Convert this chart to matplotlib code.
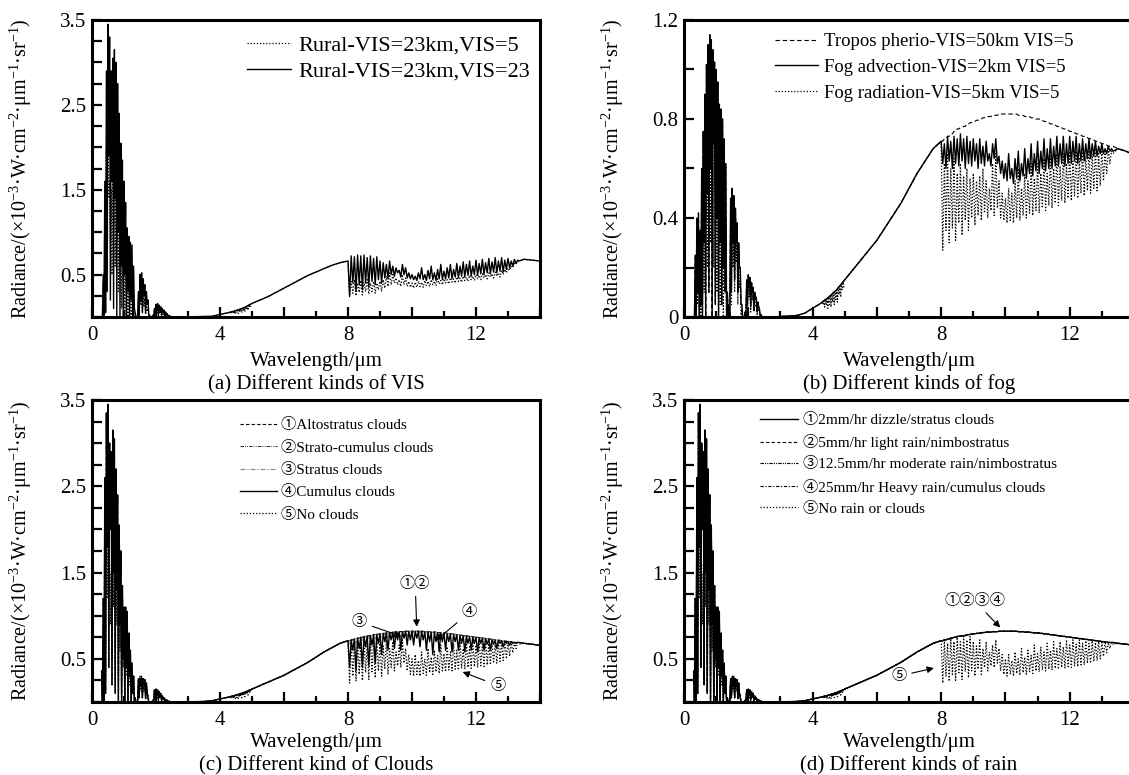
import numpy as np
import matplotlib
matplotlib.use("Agg")
import matplotlib.pyplot as plt
from matplotlib.ticker import MultipleLocator, FuncFormatter

plt.rcParams["font.family"] = ["Liberation Serif", "Noto Sans CJK SC", "DejaVu Sans"]
plt.rcParams["mathtext.fontset"] = "custom"
plt.rcParams["mathtext.rm"] = "Liberation Serif"
plt.rcParams["mathtext.it"] = "Liberation Serif:italic"
plt.rcParams["font.size"] = 15

# wavelength grids (um)
sw_x = np.linspace(0.30, 2.50, 45)     # short-wave spike positions
mid_x = np.linspace(2.50, 8.00, 23)    # smooth rise
co2_x = np.linspace(4.30, 4.95, 14)    # CO2 band dip
lw_x = np.linspace(8.0, 13.3, 54)      # long-wave window
tail_x = [13.5, 13.75, 14.0]

# ---- short-wave peaks / troughs ----
a_sw_top = [0.0, 0.5, 1.6, 2.9, 3.45, 3.3, 2.9, 3.05, 3.15, 3.0,
            2.75, 2.4, 2.05, 1.85, 1.6, 1.35, 1.05, 0.95, 0.88, 0.85,
            0.6, 0.05, 0.0, 0.3, 0.5, 0.52, 0.45, 0.38, 0.3, 0.2,
            0.02, 0.0, 0.02, 0.1, 0.15, 0.16, 0.14, 0.12, 0.1, 0.08,
            0.06, 0.04, 0.02, 0.01, 0.0]
a_sw_bot = [0.0, 0.0, 0.05, 0.3, 1.9, 0.2, 1.6, 0.1, 1.4, 0.0,
            1.0, 0.0, 0.6, 0.0, 0.5, 0.0, 0.3, 0.0, 0.2, 0.0,
            0.1, 0.0, 0.0, 0.02, 0.2, 0.05, 0.25, 0.05, 0.15, 0.02,
            0.0, 0.0, 0.0, 0.02, 0.08, 0.02, 0.08, 0.02, 0.05, 0.01,
            0.03, 0.0, 0.01, 0.0, 0.0]
dot_sw_top = [0.0, 0.4, 1.3, 2.0, 2.3, 1.6, 1.5, 2.0, 2.2, 2.0,
              1.8, 1.55, 1.3, 1.1, 0.95, 0.8, 0.65, 0.55, 0.45, 0.35,
              0.25, 0.03, 0.0, 0.2, 0.3, 0.3, 0.27, 0.22, 0.17, 0.1,
              0.01, 0.0, 0.01, 0.07, 0.1, 0.1, 0.09, 0.08, 0.06, 0.05,
              0.03, 0.02, 0.01, 0.0, 0.0]
dot_sw_bot = [0.0, 0.0, 0.3, 1.2, 1.4, 0.9, 0.5, 1.1, 0.6, 0.9,
              0.3, 0.6, 0.1, 0.4, 0.0, 0.3, 0.0, 0.2, 0.0, 0.1,
              0.0, 0.0, 0.0, 0.05, 0.15, 0.05, 0.12, 0.03, 0.08, 0.0,
              0.0, 0.0, 0.0, 0.02, 0.05, 0.01, 0.04, 0.01, 0.03, 0.0,
              0.01, 0.0, 0.0, 0.0, 0.0]
b_sw_top = [0.0, 0.25, 0.4, 0.42, 0.35, 0.6, 0.75, 0.9, 1.02, 1.1,
            1.14, 1.12, 1.08, 1.03, 1.0, 0.95, 0.86, 0.84, 0.8, 0.72,
            0.62, 0.1, 0.05, 0.48, 0.52, 0.49, 0.44, 0.38, 0.3, 0.2,
            0.05, 0.0, 0.02, 0.15, 0.17, 0.16, 0.14, 0.12, 0.1, 0.08,
            0.06, 0.03, 0.01, 0.0, 0.0]
b_sw_bot = [0.0, 0.0, 0.1, 0.0, 0.05, 0.0, 0.3, 0.0, 0.5, 0.1,
            0.6, 0.0, 0.7, 0.05, 0.4, 0.0, 0.3, 0.05, 0.2, 0.1,
            0.0, 0.0, 0.0, 0.1, 0.3, 0.15, 0.3, 0.1, 0.2, 0.05,
            0.0, 0.0, 0.0, 0.05, 0.12, 0.04, 0.1, 0.03, 0.07, 0.02,
            0.04, 0.0, 0.0, 0.0, 0.0]
b_dot_sw_top = [0.0, 0.15, 0.3, 0.35, 0.3, 0.5, 0.65, 0.8, 0.92, 0.98,
                1.0, 0.99, 0.95, 0.9, 0.85, 0.8, 0.72, 0.68, 0.62, 0.5,
                0.4, 0.05, 0.02, 0.35, 0.38, 0.36, 0.33, 0.3, 0.25, 0.15,
                0.03, 0.0, 0.01, 0.12, 0.14, 0.13, 0.12, 0.1, 0.08, 0.06,
                0.04, 0.02, 0.01, 0.0, 0.0]
b_dot_sw_bot = [0.0, 0.0, 0.05, 0.1, 0.0, 0.2, 0.1, 0.4, 0.2, 0.6,
                0.3, 0.7, 0.2, 0.5, 0.1, 0.4, 0.05, 0.3, 0.0, 0.2,
                0.0, 0.0, 0.0, 0.05, 0.2, 0.1, 0.22, 0.05, 0.12, 0.0,
                0.0, 0.0, 0.0, 0.03, 0.08, 0.02, 0.07, 0.02, 0.04, 0.0,
                0.02, 0.0, 0.0, 0.0, 0.0]
cd_sw_top = [0.36, 1.2, 2.6, 3.35, 3.45, 3.0, 2.9, 3.15, 3.05, 2.7,
             2.4, 2.05, 1.75, 1.35, 1.1, 1.1, 1.05, 0.8, 0.6, 0.45,
             0.3, 0.05, 0.0, 0.27, 0.28, 0.28, 0.27, 0.26, 0.22, 0.05,
             0.0, 0.0, 0.02, 0.14, 0.15, 0.14, 0.12, 0.1, 0.07, 0.05,
             0.03, 0.02, 0.01, 0.0, 0.0]
cd_sw_bot = [0.0, 0.0, 0.1, 1.8, 0.4, 2.0, 0.2, 1.5, 0.1, 1.3,
             0.0, 0.9, 0.0, 0.5, 0.0, 0.4, 0.0, 0.3, 0.0, 0.1,
             0.0, 0.0, 0.0, 0.05, 0.18, 0.05, 0.2, 0.04, 0.1, 0.0,
             0.0, 0.0, 0.0, 0.05, 0.1, 0.03, 0.08, 0.02, 0.04, 0.01,
             0.0, 0.0, 0.0, 0.0, 0.0]

# ---- 2.5-8 um smooth part ----
a_mid = [0.0, 0.0, 0.002, 0.004, 0.005, 0.008, 0.03, 0.05, 0.075, 0.11, 0.16, 0.2,
         0.24, 0.29, 0.34, 0.39, 0.44, 0.49, 0.53, 0.57, 0.61, 0.64, 0.66]
bcd_mid = [0.0, 0.0, 0.002, 0.004, 0.006, 0.015, 0.035, 0.055, 0.08, 0.11, 0.15, 0.19,
           0.23, 0.27, 0.31, 0.36, 0.41, 0.46, 0.52, 0.58, 0.63, 0.68, 0.71]
co2_top = [0.06, 0.065, 0.07, 0.075, 0.08, 0.085, 0.09, 0.10, 0.105, 0.11, 0.12, 0.125, 0.13, 0.14]
co2_bot = [0.05, 0.04, 0.05, 0.035, 0.05, 0.04, 0.06, 0.05, 0.07, 0.06, 0.09, 0.08, 0.11, 0.12]

# ---- 8-13.3 um window ----
lw_bb = [0.71, 0.72, 0.73, 0.74, 0.75, 0.76, 0.765, 0.77, 0.78, 0.785,
         0.79, 0.795, 0.80, 0.805, 0.81, 0.81, 0.815, 0.815, 0.82, 0.82,
         0.82, 0.82, 0.82, 0.82, 0.815, 0.815, 0.81, 0.81, 0.805, 0.80,
         0.80, 0.795, 0.79, 0.785, 0.78, 0.775, 0.77, 0.765, 0.76, 0.755,
         0.75, 0.745, 0.74, 0.735, 0.73, 0.725, 0.72, 0.715, 0.71, 0.705,
         0.70, 0.695, 0.69, 0.69]
a23_lw_top = [0.70, 0.72, 0.71, 0.73, 0.72, 0.73, 0.70, 0.72, 0.69, 0.71,
              0.66, 0.64, 0.62, 0.66, 0.60, 0.58, 0.55, 0.62, 0.58, 0.52,
              0.50, 0.48, 0.52, 0.58, 0.50, 0.55, 0.60, 0.52, 0.56, 0.62,
              0.54, 0.58, 0.62, 0.56, 0.63, 0.60, 0.65, 0.62, 0.66, 0.60,
              0.67, 0.63, 0.68, 0.64, 0.69, 0.65, 0.70, 0.66, 0.70, 0.67,
              0.69, 0.66, 0.68, 0.67]
a23_lw_bot = [0.25, 0.40, 0.30, 0.38, 0.32, 0.40, 0.35, 0.42, 0.38, 0.44,
              0.40, 0.46, 0.45, 0.50, 0.48, 0.52, 0.47, 0.50, 0.46, 0.45,
              0.44, 0.43, 0.45, 0.44, 0.43, 0.45, 0.44, 0.43, 0.45, 0.44,
              0.45, 0.46, 0.45, 0.47, 0.46, 0.48, 0.47, 0.49, 0.48, 0.50,
              0.49, 0.51, 0.50, 0.52, 0.51, 0.53, 0.52, 0.54, 0.53, 0.56,
              0.58, 0.60, 0.63, 0.66]
a5_lw_top = [0.45, 0.42, 0.44, 0.40, 0.43, 0.41, 0.44, 0.40, 0.42, 0.40,
             0.42, 0.44, 0.48, 0.52, 0.50, 0.46, 0.44, 0.50, 0.46, 0.42,
             0.40, 0.41, 0.42, 0.41, 0.43, 0.42, 0.44, 0.42, 0.45, 0.43,
             0.45, 0.44, 0.46, 0.45, 0.47, 0.46, 0.48, 0.47, 0.49, 0.48,
             0.50, 0.49, 0.51, 0.50, 0.52, 0.51, 0.53, 0.52, 0.55, 0.56,
             0.58, 0.60, 0.63, 0.66]
a5_lw_bot = [0.24, 0.28, 0.25, 0.29, 0.26, 0.30, 0.27, 0.30, 0.28, 0.32,
             0.30, 0.34, 0.36, 0.38, 0.40, 0.38, 0.36, 0.38, 0.36, 0.35,
             0.34, 0.35, 0.36, 0.35, 0.37, 0.36, 0.38, 0.37, 0.39, 0.38,
             0.40, 0.39, 0.41, 0.40, 0.42, 0.41, 0.43, 0.42, 0.44, 0.43,
             0.45, 0.44, 0.46, 0.45, 0.47, 0.46, 0.48, 0.47, 0.50, 0.52,
             0.55, 0.58, 0.62, 0.66]
adv_lw_top = [0.72, 0.70, 0.73, 0.71, 0.73, 0.72, 0.74, 0.72, 0.73, 0.71,
              0.72, 0.70, 0.72, 0.69, 0.71, 0.66, 0.70, 0.72, 0.65, 0.63,
              0.62, 0.66, 0.60, 0.64, 0.67, 0.62, 0.68, 0.64, 0.70, 0.66,
              0.71, 0.67, 0.72, 0.68, 0.72, 0.69, 0.73, 0.70, 0.73, 0.70,
              0.73, 0.71, 0.73, 0.70, 0.72, 0.70, 0.72, 0.70, 0.71, 0.69,
              0.70, 0.68, 0.69, 0.68]
adv_lw_bot = [0.62, 0.60, 0.63, 0.60, 0.62, 0.61, 0.63, 0.60, 0.62, 0.61,
              0.63, 0.60, 0.62, 0.61, 0.63, 0.61, 0.64, 0.62, 0.58, 0.56,
              0.55, 0.56, 0.54, 0.56, 0.55, 0.57, 0.56, 0.58, 0.57, 0.59,
              0.58, 0.60, 0.59, 0.60, 0.60, 0.61, 0.61, 0.62, 0.61, 0.62,
              0.62, 0.63, 0.62, 0.63, 0.63, 0.64, 0.64, 0.65, 0.65, 0.66,
              0.66, 0.66, 0.67, 0.67]
rad_lw_top = [0.68, 0.62, 0.66, 0.60, 0.64, 0.58, 0.62, 0.57, 0.60, 0.56,
              0.58, 0.55, 0.57, 0.60, 0.55, 0.52, 0.62, 0.66, 0.55, 0.50,
              0.48, 0.52, 0.50, 0.55, 0.60, 0.52, 0.58, 0.55, 0.62, 0.56,
              0.62, 0.58, 0.64, 0.58, 0.65, 0.60, 0.66, 0.61, 0.66, 0.62,
              0.67, 0.63, 0.67, 0.64, 0.68, 0.65, 0.68, 0.66, 0.68, 0.66,
              0.68, 0.67, 0.68, 0.67]
rad_lw_bot = [0.27, 0.35, 0.30, 0.36, 0.31, 0.38, 0.33, 0.39, 0.35, 0.40,
              0.37, 0.41, 0.39, 0.42, 0.40, 0.43, 0.41, 0.44, 0.40, 0.39,
              0.38, 0.39, 0.38, 0.40, 0.39, 0.41, 0.40, 0.42, 0.41, 0.43,
              0.42, 0.44, 0.43, 0.45, 0.44, 0.46, 0.45, 0.47, 0.46, 0.48,
              0.47, 0.49, 0.48, 0.50, 0.49, 0.51, 0.50, 0.52, 0.51, 0.53,
              0.55, 0.58, 0.62, 0.66]
clear_lw_top = [0.70, 0.72, 0.68, 0.74, 0.70, 0.75, 0.70, 0.76, 0.72, 0.76,
                0.70, 0.65, 0.72, 0.62, 0.70, 0.58, 0.66, 0.72, 0.62, 0.55,
                0.50, 0.55, 0.48, 0.58, 0.50, 0.62, 0.52, 0.60, 0.54, 0.66,
                0.56, 0.64, 0.58, 0.68, 0.60, 0.70, 0.62, 0.70, 0.64, 0.72,
                0.66, 0.72, 0.67, 0.72, 0.68, 0.71, 0.68, 0.71, 0.69, 0.70,
                0.69, 0.70, 0.69, 0.69]
clear_lw_bot = [0.22, 0.30, 0.24, 0.32, 0.25, 0.34, 0.26, 0.35, 0.28, 0.36,
                0.30, 0.38, 0.32, 0.40, 0.36, 0.42, 0.40, 0.45, 0.36, 0.32,
                0.30, 0.32, 0.30, 0.33, 0.31, 0.34, 0.32, 0.35, 0.33, 0.36,
                0.35, 0.37, 0.36, 0.38, 0.37, 0.39, 0.38, 0.40, 0.39, 0.41,
                0.40, 0.42, 0.41, 0.43, 0.43, 0.45, 0.45, 0.47, 0.48, 0.50,
                0.53, 0.57, 0.62, 0.67]
stratus_lw_bot = [0.66, 0.72, 0.68, 0.74, 0.70, 0.75, 0.72, 0.76, 0.73, 0.77,
                  0.74, 0.78, 0.75, 0.79, 0.74, 0.80, 0.72, 0.80, 0.76, 0.81,
                  0.80, 0.81, 0.80, 0.81, 0.80, 0.81, 0.80, 0.80, 0.79, 0.79,
                  0.79, 0.79, 0.78, 0.78, 0.77, 0.77, 0.76, 0.76, 0.75, 0.75,
                  0.74, 0.74, 0.73, 0.73, 0.72, 0.72, 0.71, 0.71, 0.70, 0.70,
                  0.69, 0.69, 0.69, 0.69]
cumulus_lw_bot = [0.40, 0.60, 0.36, 0.62, 0.40, 0.64, 0.42, 0.66, 0.45, 0.68,
                  0.55, 0.70, 0.60, 0.72, 0.62, 0.72, 0.60, 0.74, 0.66, 0.72,
                  0.66, 0.74, 0.64, 0.72, 0.60, 0.70, 0.55, 0.70, 0.58, 0.70,
                  0.60, 0.70, 0.58, 0.70, 0.60, 0.68, 0.58, 0.68, 0.60, 0.68,
                  0.58, 0.68, 0.60, 0.67, 0.60, 0.67, 0.62, 0.68, 0.64, 0.68,
                  0.66, 0.68, 0.68, 0.69]

a_tail = [0.68, 0.67, 0.66]
bcd_tail = [0.68, 0.67, 0.655]


def spikes(x, top, bot, w):
    xs = np.column_stack([x, np.asarray(x) + w]).ravel()
    ys = np.column_stack([top, bot]).ravel()
    return xs, ys


def curve(sw_top, sw_bot, mid, lw_top, lw_bot, tail):
    sx, sy = spikes(sw_x, sw_top, sw_bot, 0.025)
    lx, ly = spikes(lw_x, lw_top, lw_bot, 0.05)
    x = np.concatenate([sx, mid_x[1:], lx[1:], tail_x])
    y = np.concatenate([sy, mid[1:], ly[1:], tail])
    return x, y


def co2(ax, **kw):
    cx, cy = spikes(co2_x, co2_top, co2_bot, 0.025)
    ax.plot(cx, cy, **kw)


SOLID = dict(color="k", lw=1.0, ls="-")
DOT = dict(color="k", lw=0.9, ls=(0, (1, 1.5)))
DASH = dict(color="k", lw=0.8, ls=(0, (4, 2.5)))

fig = plt.figure(figsize=(11.29, 7.75), dpi=100)
ax_a = fig.add_axes([92 / 1129, 458 / 775, 448 / 1129, 297 / 775])
ax_b = fig.add_axes([684 / 1129, 458 / 775, 450 / 1129, 297 / 775])
ax_c = fig.add_axes([92 / 1129, 73 / 775, 448 / 1129, 302 / 775])
ax_d = fig.add_axes([684 / 1129, 73 / 775, 450 / 1129, 302 / 775])

# (a)
x, y = curve(a_sw_top, a_sw_bot, a_mid, a23_lw_top, a23_lw_bot, a_tail)
ax_a.plot(x, y, label="Rural-VIS=23km,VIS=23", **SOLID)
x, y = curve(dot_sw_top, dot_sw_bot, a_mid, a5_lw_top, a5_lw_bot, a_tail)
ax_a.plot(x, y, label="Rural-VIS=23km,VIS=5", **DOT)
co2(ax_a, **DOT)

# (b)
x, y = curve(b_sw_top, b_sw_bot, bcd_mid, lw_bb, lw_bb, bcd_tail)
ax_b.plot(x, y, label="Tropos pherio-VIS=50km VIS=5", **DASH)
x, y = curve(b_sw_top, b_sw_bot, bcd_mid, adv_lw_top, adv_lw_bot, bcd_tail)
ax_b.plot(x, y, label="Fog advection-VIS=2km VIS=5", **SOLID)
x, y = curve(b_dot_sw_top, b_dot_sw_bot, bcd_mid, rad_lw_top, rad_lw_bot, bcd_tail)
ax_b.plot(x, y, label="Fog radiation-VIS=5km VIS=5", **DOT)
co2(ax_b, **DOT)

# (c)
c_styles = [
    ("①Altostratus clouds", dict(color="k", lw=0.8, ls=(0, (3, 2))), lw_bb),
    ("②Strato-cumulus clouds", dict(color="k", lw=0.6, ls=(0, (4, 1.5, 1, 1.5, 1, 1.5))), lw_bb),
    ("③Stratus clouds", dict(color="0.55", lw=0.9, ls=(0, (4, 1.5, 1, 1.5))), stratus_lw_bot),
    ("④Cumulus clouds", SOLID, cumulus_lw_bot),
]
lines_c = {}
for lab, st, bot in c_styles:
    x, y = curve(cd_sw_top, cd_sw_bot, bcd_mid, lw_bb, bot, bcd_tail)
    lines_c[lab] = ax_c.plot(x, y, label=lab, **st)[0]
x, y = curve(dot_sw_top, dot_sw_bot, bcd_mid, clear_lw_top, clear_lw_bot, bcd_tail)
lines_c["⑤No clouds"] = ax_c.plot(x, y, label="⑤No clouds", **DOT)[0]
co2(ax_c, **DOT)

# (d)
d_styles = [
    ("①2mm/hr dizzle/stratus clouds", SOLID),
    ("②5mm/hr light rain/nimbostratus", dict(color="k", lw=0.8, ls=(0, (3, 2)))),
    ("③12.5mm/hr moderate rain/nimbostratus", dict(color="k", lw=0.8, ls=(0, (3, 1, 1, 1, 1, 1)))),
    ("④25mm/hr Heavy rain/cumulus clouds", dict(color="k", lw=0.8, ls=(0, (3, 1.5, 1, 1.5)))),
]
for lab, st in d_styles[::-1]:
    x, y = curve(cd_sw_top, cd_sw_bot, bcd_mid, lw_bb, lw_bb, bcd_tail)
    ax_d.plot(x, y, label=lab, **st)
x, y = curve(dot_sw_top, dot_sw_bot, bcd_mid, clear_lw_top, clear_lw_bot, bcd_tail)
ax_d.plot(x, y, label="⑤No rain or clouds", **DOT)
co2(ax_d, **DOT)

ylabel = "Radiance/(×10$^{-3}$·W·cm$^{-2}$·μm$^{-1}$·sr$^{-1}$)"


def xfmt(v, p):
    return f"{v:g}" if abs(v % 4) < 1e-6 else ""


def yfmt_35(v, p):
    return f"{v:.1f}" if abs((v - 0.5) % 1) < 1e-6 else ""


def yfmt_12(v, p):
    if abs(v) < 1e-6:
        return "0"
    return f"{v:.1f}" if abs((v / 0.4) - round(v / 0.4)) < 1e-6 else ""


panels = [(ax_a, 3.5, 0.25, yfmt_35, 5, -48.5), (ax_b, 1.2, 0.2, yfmt_12, 5, -48.5),
          (ax_c, 3.5, 0.25, yfmt_35, 2, -46), (ax_d, 3.5, 0.25, yfmt_35, 2, -46)]
for ax, top, step, fmt, lpad, cap_off in panels:
    ax.set_xlim(0, 14)
    ax.set_ylim(0, top)
    ax.xaxis.set_major_locator(MultipleLocator(2))
    ax.xaxis.set_minor_locator(MultipleLocator(1))
    ax.xaxis.set_major_formatter(FuncFormatter(xfmt))
    ax.yaxis.set_major_locator(MultipleLocator(step))
    ax.yaxis.set_major_formatter(FuncFormatter(fmt))
    ax.tick_params(which="major", direction="in", length=7, width=1.6, labelsize=15)
    ax.tick_params(which="minor", direction="in", length=4, width=1.6)
    ax.tick_params(axis="x", pad=6.5)
    ax.tick_params(axis="y", pad=4)
    for s in ax.spines.values():
        s.set_linewidth(2.2)
    ax.set_xlabel("Wavelength/μm", fontsize=15, labelpad=lpad)
    ax.set_ylabel(ylabel, fontsize=14.5)
    ax.yaxis.set_label_coords(-0.13, 0.5)

captions = [(ax_a, "(a) Different kinds of VIS", -48.5), (ax_b, "(b) Different kinds of fog", -48.5),
            (ax_c, "(c) Different kind of Clouds", -46), (ax_d, "(d) Different kinds of rain", -46)]
for ax, cap, off in captions:
    ax.annotate(cap, xy=(0.5, 0), xycoords="axes fraction", xytext=(0, off),
                textcoords="offset points", ha="center", va="center", fontsize=15)

# legends
h, l = ax_a.get_legend_handles_labels()
ax_a.legend(h[::-1], l[::-1], loc="upper left", bbox_to_anchor=(0.346, 0.95), frameon=False,
            fontsize=16, handlelength=2.0, handletextpad=0.3, labelspacing=0.25,
            borderpad=0, borderaxespad=0)
ax_b.legend(loc="upper left", bbox_to_anchor=(0.202, 0.955), frameon=False,
            fontsize=13.5, handlelength=2.3, handletextpad=0.3, labelspacing=0.45,
            borderpad=0, borderaxespad=0)
hc = [lines_c[k] for k in ["①Altostratus clouds", "②Strato-cumulus clouds", "③Stratus clouds",
                           "④Cumulus clouds", "⑤No clouds"]]
ax_c.legend(hc, [l.get_label() for l in hc], loc="upper left", bbox_to_anchor=(0.33, 0.94),
            frameon=False, fontsize=11, handlelength=2.4, handletextpad=0.3,
            labelspacing=0.55, borderpad=0, borderaxespad=0)
hd, ld = ax_d.get_legend_handles_labels()
order = [3, 2, 1, 0, 4]
ax_d.legend([hd[i] for i in order], [ld[i] for i in order], loc="upper left",
            bbox_to_anchor=(0.169, 0.957), frameon=False, fontsize=11, handlelength=2.5,
            handletextpad=0.3, labelspacing=0.47, borderpad=0, borderaxespad=0)

arrow = dict(arrowstyle="-|>", color="k", lw=0.8, mutation_scale=10)
ax_c.annotate("①②", xy=(10.15, 0.84), xytext=(10.1, 1.37), ha="center", va="center",
              fontsize=11, arrowprops=arrow)
ax_c.annotate("③", xy=(9.75, 0.75), xytext=(8.35, 0.93), ha="center", va="center",
              fontsize=11, arrowprops=arrow)
ax_c.annotate("④", xy=(10.67, 0.69), xytext=(11.8, 1.04), ha="center", va="center",
              fontsize=11, arrowprops=arrow)
ax_c.annotate("⑤", xy=(11.5, 0.36), xytext=(12.68, 0.19), ha="center", va="center",
              fontsize=11, arrowprops=arrow)
ax_d.annotate("①②③④", xy=(9.9, 0.84), xytext=(9.04, 1.17), ha="center", va="center",
              fontsize=11, arrowprops=arrow)
ax_d.annotate("⑤", xy=(7.86, 0.4), xytext=(6.68, 0.3), ha="center", va="center",
              fontsize=11, arrowprops=arrow)

fig.savefig("out.png", dpi=100)
